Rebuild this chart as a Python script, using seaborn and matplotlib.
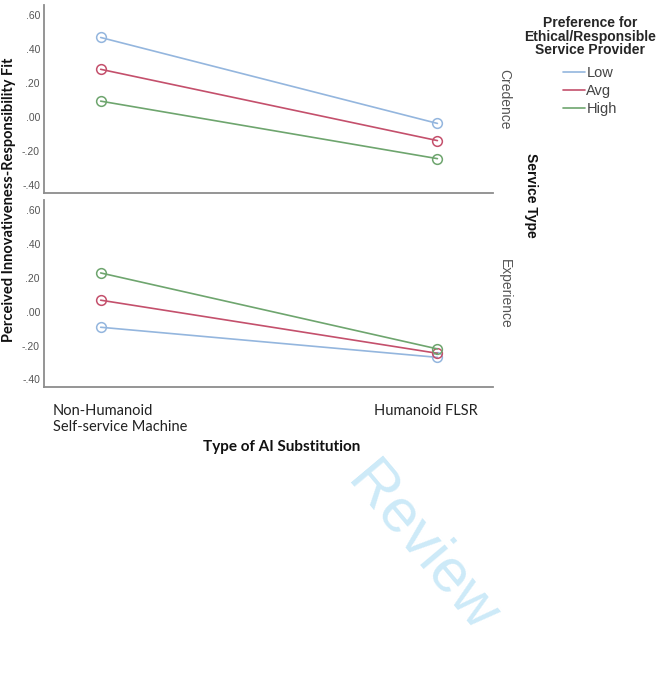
import numpy as np
import pandas as pd
import matplotlib
matplotlib.use('Agg')
import matplotlib.pyplot as plt
from matplotlib.lines import Line2D
import seaborn as sns

# values (estimated)
substitution = ['Non-Humanoid\nSelf-service Machine', 'Humanoid FLSR']
service_types = ['Credence', 'Experience']
preference = ['Low', 'Avg', 'High']
credence_fit = {'Low': [0.469, -0.036], 'Avg': [0.282, -0.137], 'High': [0.095, -0.243]}
experience_fit = {'Low': [-0.092, -0.270], 'Avg': [0.068, -0.246], 'High': [0.229, -0.220]}
yticks = [0.6, 0.4, 0.2, 0.0, -0.2, -0.4]
ytick_labels = ['.60', '.40', '.20', '.00', '-.20', '-.40']

colors = {'Low': '#94b6de', 'Avg': '#c4506c', 'High': '#6ea56e'}

rows = []
for st, fits in zip(service_types, [credence_fit, experience_fit]):
    for p in preference:
        for s, v in zip(substitution, fits[p]):
            rows.append({'service': st, 'pref': p, 'sub': s, 'fit': v})
df = pd.DataFrame(rows)

sns.set_style('white')
plt.rcParams['font.family'] = ['Liberation Sans', 'DejaVu Sans']

fig = plt.figure(figsize=(6.68, 6.73), dpi=100)
panel_pos = [[0.066, 0.7132, 0.672, 0.2794], [0.066, 0.4250, 0.672, 0.2778]]

axes = []
for st, pos in zip(service_types, panel_pos):
    ax = fig.add_axes(pos)
    sub = df[df['service'] == st]
    sns.lineplot(data=sub, x='sub', y='fit', hue='pref', hue_order=preference,
                 palette=colors, marker='o', markersize=7, markerfacecolor='none',
                 markeredgewidth=1.1, linewidth=1.2, legend=False, ax=ax)
    for ln in ax.lines:
        ln.set_markeredgecolor(ln.get_color())
    ax.set_xlim(-0.168, 1.165)
    ax.set_ylim(-0.445, 0.66)
    ax.set_yticks(yticks)
    ax.set_yticklabels(ytick_labels, fontsize=7.5, color='#555555')
    ax.tick_params(axis='y', length=0, pad=3)
    ax.set_xlabel('')
    ax.set_ylabel('')
    for side in ['top', 'right']:
        ax.spines[side].set_visible(False)
    for side in ['left', 'bottom']:
        ax.spines[side].set_color('#8c8c8c')
        ax.spines[side].set_linewidth(1.3)
    ax.text(1.01, 0.5, st, transform=ax.transAxes, rotation=-90, ha='left',
            va='center', fontsize=10, color='#555555')
    axes.append(ax)

# tick labels sit a little inward of the points in the reference
axes[0].set_xticks([])
axes[1].set_xticks([0.058, 0.966])
axes[1].set_xticklabels(substitution, fontsize=10.5, family='Lato', color='#222222',
                        multialignment='left')
axes[1].tick_params(axis='x', length=0, pad=12)

fig.text(0.422, 0.336, 'Type of AI Substitution', ha='center', va='center',
         fontsize=11, fontweight='bold', family='Lato', color='#111111')
fig.text(0.013, 0.703, 'Perceived Innovativeness-Responsibility Fit', rotation=90,
         ha='center', va='center', fontsize=10.5, fontweight='bold', family='Lato',
         color='#111111')
fig.text(0.795, 0.71, 'Service Type', rotation=-90, ha='center', va='center',
         fontsize=10, fontweight='bold', color='#111111')

handles = [Line2D([], [], color=colors[p], linewidth=1.2) for p in preference]
leg = fig.legend(handles, preference, title='Preference for\nEthical/Responsible\nService Provider',
                 loc='upper center', bbox_to_anchor=(0.883, 0.995), frameon=False,
                 fontsize=10.5, handlelength=1.5, handletextpad=0.1, labelspacing=0.3,
                 title_fontproperties={'weight': 'bold', 'size': 10})
for t in leg.get_texts():
    t.set_color('#444444')
leg.get_title().set_multialignment('center')
leg.get_title().set_linespacing(0.95)
leg._legend_box.sep = 6

fig.text(0.632, 0.185, 'Review', rotation=-50, ha='center', va='center',
         fontsize=44, color='#cdeaf8', family='Liberation Sans')

fig.savefig('out.png', dpi=100)
